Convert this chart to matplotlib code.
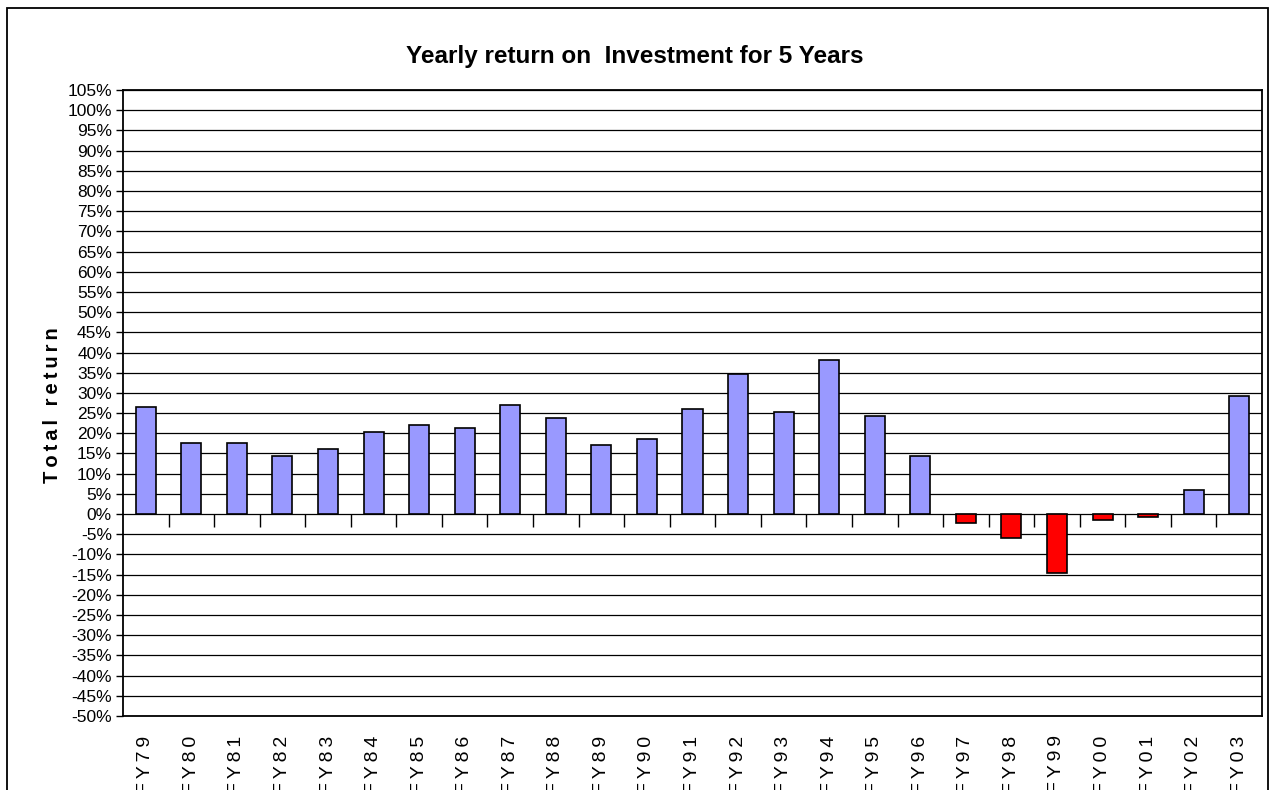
import matplotlib
matplotlib.use("Agg")
import matplotlib.pyplot as plt
from matplotlib.patches import Rectangle
import numpy as np

categories = ["FY79", "FY80", "FY81", "FY82", "FY83", "FY84", "FY85", "FY86", "FY87",
              "FY88", "FY89", "FY90", "FY91", "FY92", "FY93", "FY94", "FY95", "FY96",
              "FY97", "FY98", "FY99", "FY00", "FY01", "FY02", "FY03"]
returns = [26.5, 17.5, 17.5, 14.4, 16.2, 20.3, 22.0, 21.2, 27.0,
           23.8, 17.0, 18.5, 26.1, 34.8, 25.3, 38.2, 24.3, 14.4,
           -2.3, -6.0, -14.5, -1.4, -0.7, 5.9, 29.3]
title = "Yearly return on  Investment for 5 Years"
ylabel = "Total return"

plt.rcParams['font.family'] = ['Liberation Sans', 'DejaVu Sans']

fig = plt.figure(figsize=(12.7, 7.9), dpi=100)
ax = fig.add_axes([123/1270, 1 - 716/790, (1262-123)/1270, (716-90)/790])

x = np.arange(len(categories))
vals = np.array(returns)
colors = ['#9999FF' if v >= 0 else '#FF0000' for v in vals]
ax.bar(x, vals, width=0.44, color=colors, edgecolor='black', linewidth=1.2, zorder=3)

ax.set_xlim(-0.5, len(categories) - 0.5)
ax.set_ylim(-50, 105)
yt = np.arange(-50, 106, 5)
ax.set_yticks(yt)
ax.set_yticklabels([f"{int(v)}%" for v in yt], fontsize=12.5)
ax.yaxis.grid(True, color='black', linewidth=0.9, zorder=1)
ax.tick_params(axis='y', direction='out', length=5, width=1, pad=3)

ax.set_xticks(x)
ax.set_xticklabels(["\u2009".join(c) for c in categories], rotation=90, fontsize=14,
                   va='top', ha='center')
ax.tick_params(axis='x', length=0, pad=14)

for s in ax.spines.values():
    s.set_linewidth(1.3)
    s.set_color('black')

# category tick marks on the zero line
loc = (0 - (-50)) / (105 - (-50))
sec = ax.secondary_xaxis(loc)
sec.set_xticks(np.arange(len(categories) - 1) + 0.5)
sec.set_xticklabels([])
sec.tick_params(direction='out', length=9, width=1)
sec.spines['bottom'].set_visible(False)

fig.text(53/1270, 1 - 405/790, "\u2009".join(ylabel), rotation=90, ha='center', va='center',
         fontsize=14.5, fontweight='bold')

fig.text(0.5, 1 - 57/790, title, ha='center', va='center', fontsize=17.5,
         fontweight='bold')

fig.patches.append(Rectangle((7/1270, -0.05), (1268-7)/1270, 1.05 - 8/790,
                             transform=fig.transFigure, fill=False,
                             edgecolor='black', linewidth=1.3))

fig.savefig("out.png", dpi=100)
